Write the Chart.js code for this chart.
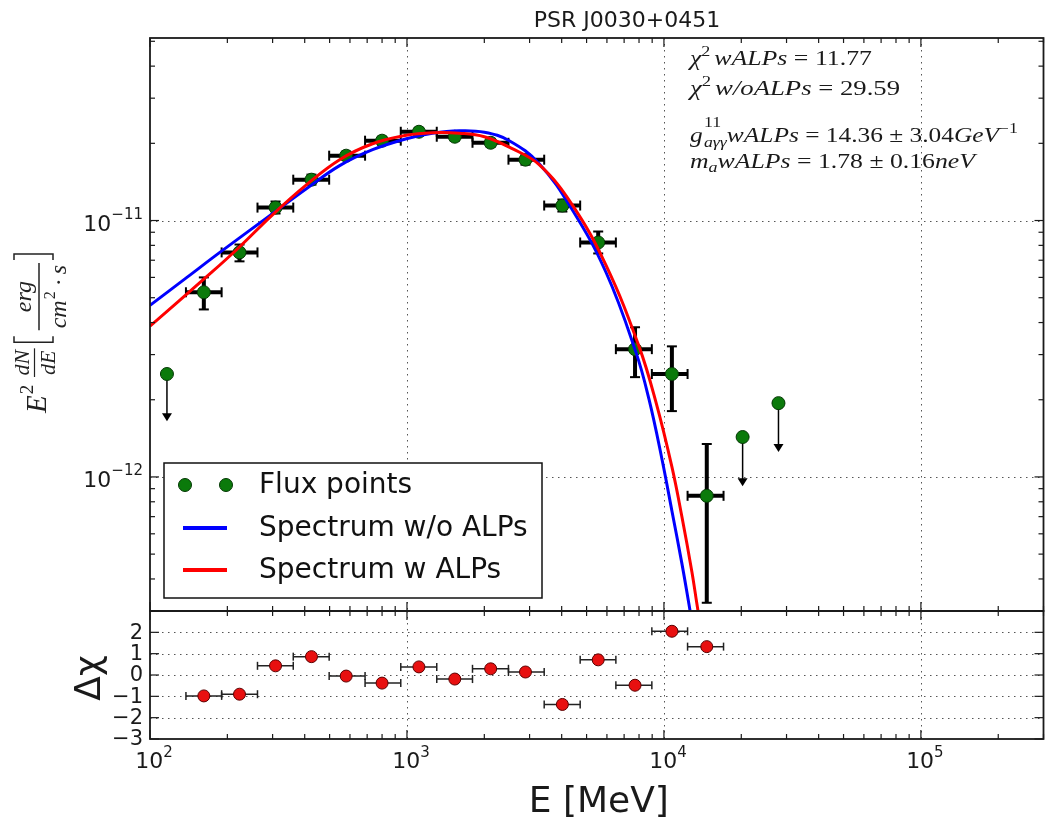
<!DOCTYPE html>
<html><head><meta charset="utf-8">
<script src="https://cdn.jsdelivr.net/npm/chart.js@4.4.0/dist/chart.umd.min.js"></script>
<style>html,body{margin:0;padding:0;background:#fff;}canvas{display:block;}</style>
</head><body>
<canvas id="c" width="1051" height="829"></canvas>
<script>
// ---------------- data ----------------
const titleText = 'PSR J0030+0451';
const xTickExps = [2, 3, 4, 5];
const yTickExps = [-11, -12];
const resTickVals = [2, 1, 0, -1, -2, -3];

// flux points (MeV, erg cm^-2 s^-1)
const fluxE = [116.4, 162, 223, 308, 425, 580, 800, 1113, 1535, 2117, 2892, 4025, 5549, 7719, 10740, 14680, 20240, 27910];
const fluxF = [2.52e-12, 5.25e-12, 7.51e-12, 1.123e-11, 1.443e-11, 1.790e-11, 2.048e-11, 2.219e-11, 2.122e-11, 2.010e-11, 1.727e-11, 1.144e-11, 8.21e-12, 3.15e-12, 2.52e-12, 8.44e-13, 1.431e-12, 1.94e-12];
const fluxFHi = [null, 6.0e-12, 8.06e-12, 1.186e-11, 1.510e-11, 1.856e-11, 2.123e-11, 2.30e-11, 2.199e-11, 2.083e-11, 1.807e-11, 1.207e-11, 9.06e-12, 3.835e-12, 3.23e-12, 1.344e-12, null, null];
const fluxFLo = [null, 4.50e-12, 6.93e-12, 1.065e-11, 1.380e-11, 1.727e-11, 1.975e-11, 2.141e-11, 2.047e-11, 1.939e-11, 1.651e-11, 1.084e-11, 7.44e-12, 2.45e-12, 1.806e-12, 3.23e-13, null, null];
const binLo = [null, 138, 190, 262, 361, 498, 687, 946, 1306, 1799, 2483, 3420, 4721, 6501, 8974, 12360, null, null];
const binHi = [null, 190, 262, 361, 498, 687, 946, 1306, 1799, 2483, 3420, 4721, 6501, 8974, 12360, 17060, null, null];
const upperLimit = [true, false, false, false, false, false, false, false, false, false, false, false, false, false, false, false, true, true];
const ulArrowEnd = [1.65e-12, null, null, null, null, null, null, null, null, null, null, null, null, null, null, null, 9.2e-13, 1.25e-12];

// model spectra
const blueE = [100, 139.2, 187, 300.4, 407, 547, 735, 995, 1256, 1599, 2000, 2501, 3270, 4392, 5955, 7785, 8746, 9822, 10742, 11749, 12505, 13078];
const blueF = [4.67e-12, 6.00e-12, 7.51e-12, 1.065e-11, 1.332e-11, 1.637e-11, 1.889e-11, 2.085e-11, 2.190e-11, 2.239e-11, 2.210e-11, 2.048e-11, 1.666e-11, 1.104e-11, 6.27e-12, 3.06e-12, 2.01e-12, 1.175e-12, 7.37e-13, 4.59e-13, 3.20e-13, 2.45e-13];
const redE = [100, 166.5, 217.7, 300.4, 407, 547, 735, 995, 1256, 1599, 2000, 2569, 3270, 4392, 5955, 7998, 9310, 10742, 11749, 12846, 13436, 13924];
const redF = [3.87e-12, 6.05e-12, 7.71e-12, 1.055e-11, 1.380e-11, 1.727e-11, 1.993e-11, 2.151e-11, 2.200e-11, 2.190e-11, 2.122e-11, 1.906e-11, 1.651e-11, 1.154e-11, 6.68e-12, 3.23e-12, 1.957e-12, 1.094e-12, 6.99e-13, 4.27e-13, 3.20e-13, 2.56e-13];

// residuals (delta chi) for flux points 2..16
const resE = [162, 223, 308, 425, 580, 800, 1113, 1535, 2117, 2892, 4025, 5549, 7719, 10740, 14680];
const resV = [-0.98, -0.90, 0.43, 0.86, -0.05, -0.38, 0.38, -0.19, 0.29, 0.14, -1.38, 0.71, -0.48, 2.05, 1.33];
const resLo = [138, 190, 262, 361, 498, 687, 946, 1306, 1799, 2483, 3420, 4721, 6501, 8974, 12360];
const resHi = [190, 262, 361, 498, 687, 946, 1306, 1799, 2483, 3420, 4721, 6501, 8974, 12360, 17060];

const legendLabels = ['Flux points', 'Spectrum w/o ALPs', 'Spectrum w ALPs'];

// ---------------- helpers ----------------
const SERIF = '"Liberation Serif", "DejaVu Serif", serif';
const SANS = '"DejaVu Sans", sans-serif';
function fontOf(s, def) {
  return (s.it ? 'italic ' : '') + (s.size || def.size) + 'px ' + (s.fam || def.fam);
}
function richMeasure(ctx, segs, def) {
  let total = 0, pend = 0;
  for (const s of segs) {
    ctx.font = fontOf(s, def);
    const w = ctx.measureText(s.t).width + (s.pad || 0);
    s._w = w;
    if (s.overlap) pend = Math.max(pend, w);
    else { total += Math.max(pend, w); pend = 0; }
  }
  return total + pend;
}
function drawRich(ctx, x, y, segs, def, opt) {
  opt = opt || {};
  const total = richMeasure(ctx, segs, def);
  const sc = opt.width ? opt.width / total : 1;
  ctx.save();
  ctx.translate(x, y);
  if (opt.align === 'right') ctx.translate(-total * sc, 0);
  else if (opt.align === 'center') ctx.translate(-total * sc / 2, 0);
  ctx.scale(sc, 1);
  ctx.textBaseline = 'alphabetic';
  ctx.textAlign = 'left';
  let cx = 0, pend = 0;
  for (const s of segs) {
    ctx.font = fontOf(s, def);
    ctx.fillText(s.t, cx + (s.dx || 0), s.dy || 0);
    if (s.overlap) pend = Math.max(pend, s._w);
    else { cx += Math.max(pend, s._w); pend = 0; }
  }
  ctx.restore();
  return total * sc;
}
function line(ctx, x0, y0, x1, y1) { ctx.beginPath(); ctx.moveTo(x0, y0); ctx.lineTo(x1, y1); ctx.stroke(); }

// ---------------- plugin ----------------
const deco = {
  id: 'deco',
  beforeDatasetsDraw(chart) {
    const ctx = chart.ctx, X = chart.scales.x, Y = chart.scales.y, Y2 = chart.scales.y2;
    const L = chart.chartArea.left, R = chart.chartArea.right;
    ctx.save();
    // grids
    ctx.strokeStyle = '#555'; ctx.lineWidth = 1; ctx.setLineDash([1.5, 4.5]);
    for (const e of xTickExps) {
      const px = Math.round(X.getPixelForValue(Math.pow(10, e))) + 0.5;
      if (px <= L + 1 || px >= R - 1) continue;
      line(ctx, px, Y.top, px, Y.bottom);
      line(ctx, px, Y2.top, px, Y2.bottom);
    }
    for (const e of yTickExps) {
      const py = Math.round(Y.getPixelForValue(Math.pow(10, e))) + 0.5;
      line(ctx, L, py, R, py);
    }
    for (const v of resTickVals) {
      if (v <= Y2.min || v >= Y2.max) continue;
      const py = Math.round(Y2.getPixelForValue(v)) + 0.5;
      line(ctx, L, py, R, py);
    }
    ctx.setLineDash([]);
    // flux error bars
    ctx.strokeStyle = '#000'; ctx.fillStyle = '#000';
    const bottomY = Y.bottom;
    for (let i = 0; i < fluxE.length; i++) {
      const px = X.getPixelForValue(fluxE[i]), py = Y.getPixelForValue(fluxF[i]);
      if (upperLimit[i]) {
        const pe = Y.getPixelForValue(ulArrowEnd[i]);
        ctx.lineWidth = 1.5;
        line(ctx, px, py, px, pe - 7);
        ctx.beginPath(); ctx.moveTo(px - 5, pe - 8); ctx.lineTo(px + 5, pe - 8); ctx.lineTo(px, pe); ctx.closePath(); ctx.fill();
        continue;
      }
      const pHi = Y.getPixelForValue(fluxFHi[i]);
      const pLo = Math.min(Y.getPixelForValue(fluxFLo[i]), bottomY);
      const x0 = X.getPixelForValue(binLo[i]), x1 = X.getPixelForValue(binHi[i]);
      ctx.lineWidth = 4;
      line(ctx, px, pHi, px, pLo);
      line(ctx, x0, py, x1, py);
      ctx.lineWidth = 2;
      line(ctx, px - 5, pHi, px + 5, pHi);
      line(ctx, px - 5, pLo, px + 5, pLo);
      line(ctx, x0, py - 5, x0, py + 5);
      line(ctx, x1, py - 5, x1, py + 5);
    }
    // residual x bars
    ctx.lineWidth = 1.5; ctx.strokeStyle = '#222';
    for (let i = 0; i < resE.length; i++) {
      const py = Y2.getPixelForValue(resV[i]);
      const x0 = X.getPixelForValue(resLo[i]), x1 = X.getPixelForValue(resHi[i]);
      line(ctx, x0, py, x1, py);
      line(ctx, x0, py - 4, x0, py + 4);
      line(ctx, x1, py - 4, x1, py + 4);
    }
    ctx.restore();
  },
  beforeDatasetDraw(chart, args) {
    if (args.meta.type === 'line') {
      const Y = chart.scales.y, ca = chart.chartArea;
      chart.ctx.save();
      chart.ctx.beginPath();
      chart.ctx.rect(ca.left, Y.top, ca.right - ca.left, Y.bottom - Y.top);
      chart.ctx.clip();
    }
  },
  afterDatasetDraw(chart, args) {
    if (args.meta.type === 'line') chart.ctx.restore();
  },
  afterDatasetsDraw(chart) {
    const ctx = chart.ctx, X = chart.scales.x, Y = chart.scales.y, Y2 = chart.scales.y2;
    const L = chart.chartArea.left, R = chart.chartArea.right;
    ctx.save();
    // frames
    ctx.strokeStyle = '#1a1a1a'; ctx.lineWidth = 1.8;
    ctx.strokeRect(L, Y.top, R - L, Y.bottom - Y.top);
    ctx.strokeRect(L, Y2.top, R - L, Y2.bottom - Y2.top);
    // ticks
    ctx.lineWidth = 1.2;
    const MAJ = 9, MIN = 5;
    const panels = [[Y.top, Y.bottom], [Y2.top, Y2.bottom]];
    for (let e = 2; e <= 5; e++) {
      for (let k = 1; k <= 9; k++) {
        const v = k * Math.pow(10, e);
        if (v < X.min || v > X.max) continue;
        const px = X.getPixelForValue(v);
        const len = k === 1 ? MAJ : MIN;
        for (const [t, b] of panels) { line(ctx, px, t, px, t + len); line(ctx, px, b, px, b - len); }
      }
    }
    for (let e = -13; e <= -11; e++) {
      for (let k = 1; k <= 9; k++) {
        const v = k * Math.pow(10, e);
        if (v < Y.min || v > Y.max) continue;
        const py = Y.getPixelForValue(v);
        const len = k === 1 ? MAJ : MIN;
        line(ctx, L, py, L + len, py); line(ctx, R, py, R - len, py);
      }
    }
    for (let v = -3; v <= 3; v++) {
      const py = Y2.getPixelForValue(v);
      line(ctx, L, py, L + MAJ, py); line(ctx, R, py, R - MAJ, py);
    }
    ctx.restore();

    // legend
    ctx.save();
    const lx = 164, ly = 463, lw = 378, lh = 135;
    ctx.fillStyle = '#fff'; ctx.fillRect(lx, ly, lw, lh);
    ctx.strokeStyle = '#111'; ctx.lineWidth = 1.5; ctx.strokeRect(lx, ly, lw, lh);
    const rows = [485, 528, 570];
    const fluxDs = chart.data.datasets[2], blueDs = chart.data.datasets[1], redDs = chart.data.datasets[0];
    ctx.fillStyle = fluxDs.backgroundColor; ctx.strokeStyle = fluxDs.borderColor; ctx.lineWidth = 1;
    for (const cx of [185, 226]) { ctx.beginPath(); ctx.arc(cx, rows[0], 6.5, 0, Math.PI * 2); ctx.fill(); ctx.stroke(); }
    ctx.lineWidth = 4;
    ctx.strokeStyle = blueDs.borderColor; line(ctx, 183, rows[1], 227, rows[1]);
    ctx.strokeStyle = redDs.borderColor; line(ctx, 183, rows[2], 227, rows[2]);
    ctx.fillStyle = '#111'; ctx.font = '28px ' + SANS; ctx.textBaseline = 'middle'; ctx.textAlign = 'left';
    for (let i = 0; i < 3; i++) ctx.fillText(legendLabels[i], 259, rows[i] + 1);
    ctx.restore();
  },
  afterDraw(chart) {
    const ctx = chart.ctx, X = chart.scales.x, Y = chart.scales.y, Y2 = chart.scales.y2;
    const L = chart.chartArea.left, R = chart.chartArea.right;
    ctx.save();
    ctx.fillStyle = '#1a1a1a';
    // x tick labels
    const tdef = {size: 22, fam: SANS};
    for (const e of xTickExps) {
      const px = X.getPixelForValue(Math.pow(10, e));
      drawRich(ctx, px + 4, 768, [{t: '10'}, {t: String(e), size: 15, dy: -11}], tdef, {align: 'center'});
    }
    // y tick labels (top)
    for (const e of yTickExps) {
      const py = Y.getPixelForValue(Math.pow(10, e));
      drawRich(ctx, 143, py + 10, [{t: '10'}, {t: '\u2212' + String(-e), size: 15, dy: -12}], tdef, {align: 'right'});
    }
    // residual tick labels
    ctx.font = '21px ' + SANS; ctx.textAlign = 'right'; ctx.textBaseline = 'middle';
    for (const v of resTickVals) {
      const py = Y2.getPixelForValue(v);
      ctx.fillText(v < 0 ? '\u2212' + (-v) : String(v), 143, py + 1);
    }
    // title
    ctx.font = '22px ' + SANS; ctx.textAlign = 'center'; ctx.textBaseline = 'alphabetic';
    ctx.fillText(titleText, 627, 27);
    // x label
    ctx.font = '36px ' + SANS;
    ctx.fillText('E [MeV]', (L + R) / 2 + 2, 812);
    // delta chi label
    ctx.save();
    ctx.translate(100, (Y2.top + Y2.bottom) / 2 + 3);
    ctx.rotate(-Math.PI / 2);
    ctx.font = '36px ' + SANS; ctx.textAlign = 'center'; ctx.textBaseline = 'alphabetic';
    ctx.fillText('\u0394\u03c7', 0, 0);
    ctx.restore();

    // top y label (math)
    ctx.save();
    ctx.fillStyle = '#222';
    ctx.translate(46, 413);
    ctx.rotate(-Math.PI / 2);
    ctx.textBaseline = 'alphabetic'; ctx.textAlign = 'left';
    ctx.font = 'italic 29px ' + SERIF; ctx.fillText('E', 0, 0);
    let u = ctx.measureText('E').width + 1;
    ctx.font = '19px ' + SERIF; ctx.fillText('2', u, -13);
    u = 36;
    ctx.font = 'italic 22px ' + SERIF;
    const wdN = ctx.measureText('dN').width, wdE = ctx.measureText('dE').width;
    const wf1 = Math.max(wdN, wdE) + 3;
    ctx.fillText('dN', u + (wf1 - wdN) / 2, -17);
    ctx.fillText('dE', u + (wf1 - wdE) / 2, 9);
    ctx.strokeStyle = '#222'; ctx.lineWidth = 1.2;
    line(ctx, u, -11.5, u + wf1, -11.5);
    u += wf1 + 4;
    // left bracket
    ctx.lineWidth = 1.5;
    ctx.beginPath(); ctx.moveTo(u + 8, -32); ctx.lineTo(u + 2, -32); ctx.lineTo(u + 2, 7); ctx.lineTo(u + 8, 7); ctx.stroke();
    u += 14;
    // fraction erg / cm^2 s
    ctx.font = 'italic 24px ' + SERIF;
    const wcm = ctx.measureText('cm').width, ws = ctx.measureText('s').width, werg = ctx.measureText('erg').width;
    ctx.font = '16px ' + SERIF; const w2 = ctx.measureText('2').width;
    ctx.font = '24px ' + SERIF; const wdot = ctx.measureText('\u00b7').width + 8;
    const wden = wcm + w2 + 2 + wdot + ws;
    const wf2 = Math.max(wden, werg) + 4;
    ctx.font = 'italic 24px ' + SERIF;
    ctx.fillText('erg', u + (wf2 - werg) / 2, -15);
    line(ctx, u, -7, u + wf2, -7);
    let d0 = u + (wf2 - wden) / 2;
    ctx.fillText('cm', d0, 20); d0 += wcm + 1;
    ctx.font = '16px ' + SERIF; ctx.fillText('2', d0, 9); d0 += w2 + 1;
    ctx.font = '24px ' + SERIF; ctx.fillText('\u00b7', d0 + 4, 20); d0 += wdot;
    ctx.font = 'italic 24px ' + SERIF; ctx.fillText('s', d0, 20);
    u += wf2 + 3;
    ctx.beginPath(); ctx.moveTo(u, -32); ctx.lineTo(u + 6, -32); ctx.lineTo(u + 6, 7); ctx.lineTo(u, 7); ctx.stroke();
    ctx.restore();

    // annotation text
    const adef = {size: 20, fam: SERIF};
    drawRich(ctx, 690, 65, [{t: '\u03c7', it: true}, {t: '2', size: 14, dy: -9, pad: 3}, {t: 'wALPs', it: true}, {t: ' = 11.77'}], adef, {width: 182});
    drawRich(ctx, 690, 95, [{t: '\u03c7', it: true}, {t: '2', size: 14, dy: -9, pad: 3}, {t: 'w/oALPs', it: true}, {t: ' = 29.59'}], adef, {width: 210});
    drawRich(ctx, 690, 142, [{t: 'g', it: true, pad: 1}, {t: '11', size: 14, dy: -15, overlap: true}, {t: 'a\u03b3\u03b3', it: true, size: 14, dy: 5}, {t: 'wALPs', it: true}, {t: ' = 14.36 \u00b1 3.04'}, {t: 'GeV', it: true}, {t: '\u22121', size: 14, dy: -9}], adef, {width: 328});
    drawRich(ctx, 690, 168, [{t: 'm', it: true}, {t: 'a', it: true, size: 14, dy: 4}, {t: 'wALPs', it: true}, {t: ' = 1.78 \u00b1 0.16'}, {t: 'neV', it: true}], adef, {width: 285});
    ctx.restore();
  }
};

// ---------------- chart ----------------
const fixW = s => { s.width = 150; };
new Chart(document.getElementById('c'), {
  type: 'scatter',
  data: {
    datasets: [
      {type: 'line', label: legendLabels[2], data: redE.map((e, i) => ({x: e, y: redF[i]})), borderColor: '#ff0000', borderWidth: 3, pointRadius: 0, tension: 0.4, fill: false, yAxisID: 'y', order: 0},
      {type: 'line', label: legendLabels[1], data: blueE.map((e, i) => ({x: e, y: blueF[i]})), borderColor: '#0000ff', borderWidth: 3, pointRadius: 0, tension: 0.4, fill: false, yAxisID: 'y', order: 1},
      {type: 'scatter', label: legendLabels[0], data: fluxE.map((e, i) => ({x: e, y: fluxF[i]})), backgroundColor: '#0b7a0b', borderColor: '#043804', borderWidth: 1, pointRadius: 6.5, yAxisID: 'y', order: 2},
      {type: 'scatter', label: 'residuals', data: resE.map((e, i) => ({x: e, y: resV[i]})), backgroundColor: '#e81010', borderColor: '#5a0000', borderWidth: 1, pointRadius: 6, yAxisID: 'y2', order: 3}
    ]
  },
  options: {
    responsive: false, animation: false, events: [],
    layout: {padding: {top: 38, right: 3, left: 0, bottom: 0}},
    plugins: {legend: {display: false}, tooltip: {enabled: false}, title: {display: false}},
    scales: {
      x: {type: 'logarithmic', min: 100, max: 3e5, position: 'bottom', grid: {display: false}, border: {display: false}, ticks: {display: false}, afterFit: s => { s.height = 90; }},
      y: {type: 'logarithmic', min: 3.04e-13, max: 5.15e-11, position: 'left', stack: 'v', stackWeight: 573, weight: 2, grid: {display: false}, border: {display: false}, ticks: {display: false}, afterFit: fixW},
      y2: {type: 'linear', min: -3, max: 3, position: 'left', stack: 'v', stackWeight: 128, weight: 1, grid: {display: false}, border: {display: false}, ticks: {display: false}, afterFit: fixW}
    }
  },
  plugins: [deco]
});
</script>
</body></html>
